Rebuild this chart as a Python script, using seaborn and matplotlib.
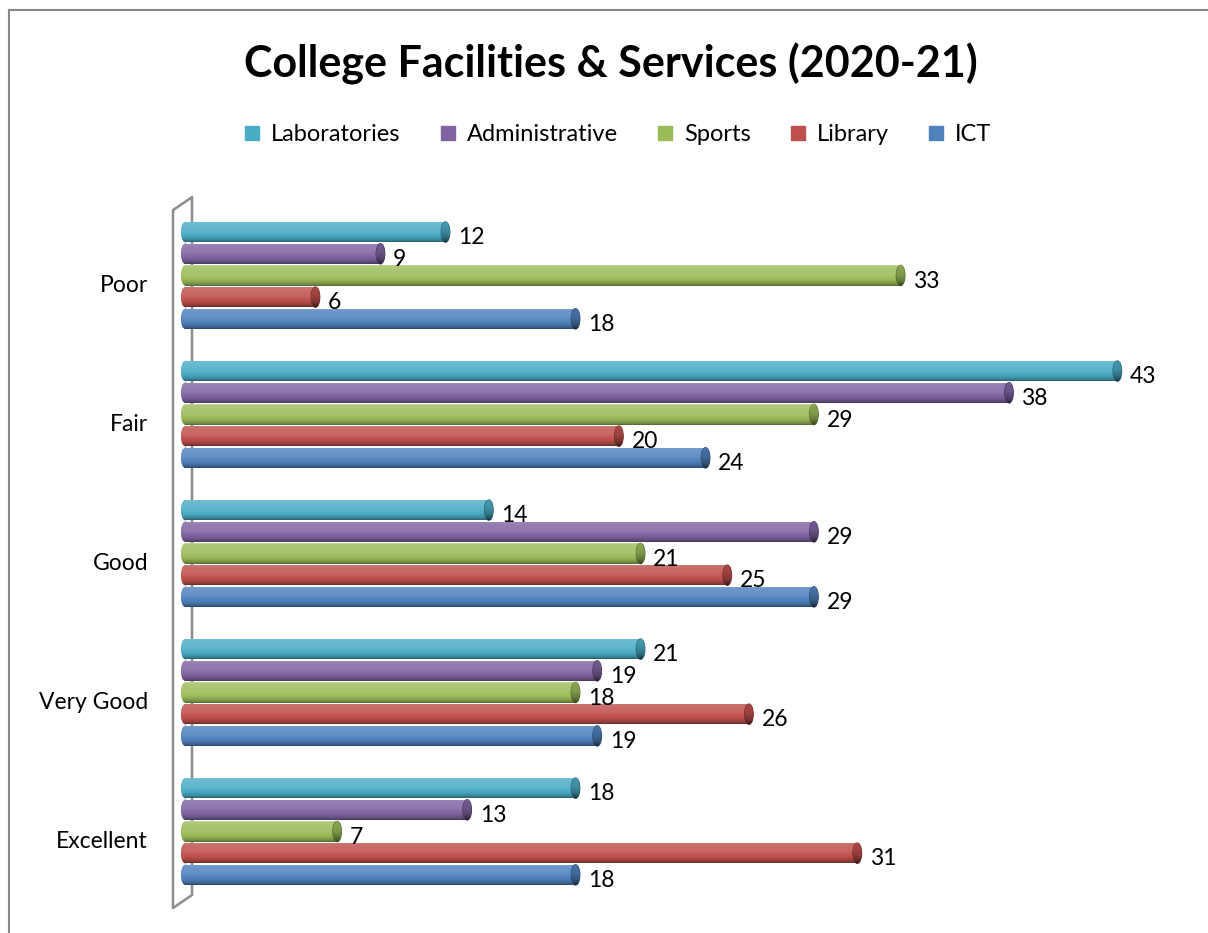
import numpy as np
import pandas as pd
import matplotlib
matplotlib.use("Agg")
import matplotlib.pyplot as plt
import matplotlib.colors as mcolors
import matplotlib.transforms as mtransforms
from matplotlib.patches import Ellipse, Rectangle
from matplotlib.lines import Line2D
import seaborn as sns

# data
ratings = ["Poor", "Fair", "Good", "Very Good", "Excellent"]
facilities = ["Laboratories", "Administrative", "Sports", "Library", "ICT"]
laboratories = [12, 43, 14, 21, 18]
administrative = [9, 38, 29, 19, 13]
sports = [33, 29, 21, 18, 7]
library = [6, 20, 25, 26, 31]
ict = [18, 24, 29, 19, 18]
colors = ["#4BACC6", "#8064A2", "#9BBB59", "#C0504D", "#4F81BD"]

df = pd.DataFrame({"Rating": ratings,
                   "Laboratories": laboratories,
                   "Administrative": administrative,
                   "Sports": sports,
                   "Library": library,
                   "ICT": ict})
long = df.melt(id_vars="Rating", var_name="Facility", value_name="Count")

sns.set_style("white")
plt.rcParams["font.family"] = ["Lato", "DejaVu Sans"]
plt.rcParams["text.color"] = "black"
plt.rcParams["ytick.color"] = "black"

fig = plt.figure(figsize=(12.08, 9.33), dpi=100)
ax = fig.add_axes([0.149, 0.0268, 0.828, 0.748])

sns.barplot(data=long, y="Rating", x="Count", hue="Facility",
            order=ratings, hue_order=facilities, palette=colors,
            orient="h", width=0.78, gap=0.06, errorbar=None,
            legend=False, ax=ax)

XMIN, XMAX = -0.25, 45.9
YLIM = (4.55, -0.47)
CAP_W = 0.4  # cap ellipse width in data units


def mix(rgb, v):
    # v > 0 -> towards white, v < 0 -> towards black
    if v >= 0:
        return rgb + (1 - rgb) * v
    return rgb * (1 + v)


def shade(clip, x0, x1, y0, y1, base, darken=0.0, z=2):
    rgb = np.array(mcolors.to_rgb(base))
    t = np.linspace(0, 1, 64)
    prof = np.interp(t, [0, 0.06, 0.15, 0.45, 0.75, 0.92, 1.0],
                     [0.4, 0.2, 0.17, 0.12, -0.05, -0.25, -0.45])
    img = np.array([mix(rgb, p - darken) for p in prof])
    img = np.clip(img, 0, 1)[:, None, :]
    im = ax.imshow(img, extent=[x0, x1, y1, y0], aspect="auto",
                   origin="upper", interpolation="bilinear", zorder=z)
    im.set_clip_path(clip)


for cont, name, col in zip(ax.containers, facilities, colors):
    base = np.array(mcolors.to_rgb(col))
    for bar, val in zip(cont, df[name]):
        y0 = bar.get_y()
        h = bar.get_height()
        yc = y0 + h / 2
        bar.set_edgecolor("none")
        # left rounded end
        left = Ellipse((0, yc), CAP_W, h, facecolor=col, edgecolor="none", zorder=2)
        ax.add_patch(left)
        shade(left, -CAP_W, CAP_W, y0, y0 + h, col, z=2.05)
        # body
        shade(bar, 0, val, y0, y0 + h, col, z=2.1)
        # right end face
        end = Ellipse((val, yc), CAP_W, h, facecolor=mix(base, -0.3),
                      edgecolor=mix(base, -0.45), lw=0.8, zorder=2.2)
        ax.add_patch(end)
        shade(end, val - CAP_W, val + CAP_W, y0, y0 + h, col, darken=0.3, z=2.25)
        ax.annotate(str(val), xy=(val, yc), xytext=(9, -4), textcoords="offset points",
                    ha="left", va="center", fontsize=16.5, zorder=5)

ax.set_xlim(XMIN, XMAX)
ax.set_ylim(*YLIM)

# 3d side wall outline
wall_x = [0.012, -0.007, -0.007, 0.012, 0.012]
wall_y = [1.0186, 1.0, 0.0, 0.0186, 1.0186]
ax.plot(wall_x, wall_y, transform=ax.transAxes, clip_on=False,
        color="#8c8c8c", lw=1.8, zorder=0.5)

sns.despine(ax=ax, left=True, bottom=True)
ax.xaxis.set_visible(False)
ax.set_ylabel("")
ax.tick_params(axis="y", length=0, pad=23, labelsize=16.5)
shift = mtransforms.ScaledTranslation(0, -0.08, fig.dpi_scale_trans)
for lab in ax.get_yticklabels():
    lab.set_transform(lab.get_transform() + shift)

handles = [Line2D([], [], marker="s", linestyle="", markersize=10, color=c) for c in colors]
fig.legend(handles, facilities, loc="center", bbox_to_anchor=(0.511, 0.856), ncol=5,
           frameon=False, fontsize=17, handlelength=0.8, columnspacing=1.6,
           handletextpad=0.4)

fig.text(0.506, 0.932, "College Facilities & Services (2020-21)", ha="center", va="center",
         fontsize=31, fontweight="bold")

# chart area border
fig.patches.append(Rectangle((0.00745, -0.05), 1.1, 0.9893 + 0.05, transform=fig.transFigure,
                             fill=False, edgecolor="#898989", lw=1.5))

fig.savefig("out.png", dpi=100)
